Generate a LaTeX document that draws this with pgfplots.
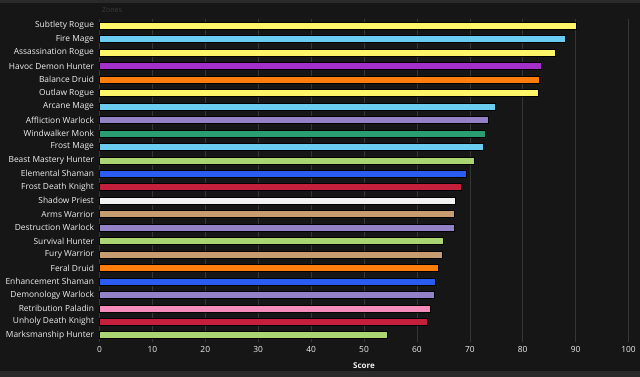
\documentclass[border=0pt]{standalone}
\usepackage{pgfplots}
\pgfplotsset{compat=1.18}
\usepackage{fontspec}
\setmainfont{Open Sans}
\definecolor{bg}{HTML}{161616}
\definecolor{strip}{HTML}{2A2A2A}
\definecolor{gridc}{HTML}{363636}
\definecolor{labc}{HTML}{F0F0F0}
\definecolor{rogue}{HTML}{FFF569}
\definecolor{mage}{HTML}{69CCF0}
\definecolor{dh}{HTML}{A330C9}
\definecolor{druid}{HTML}{FF7D0A}
\definecolor{warlock}{HTML}{9482C9}
\definecolor{monk}{HTML}{2A9D72}
\definecolor{hunter}{HTML}{ABD473}
\definecolor{shaman}{HTML}{2A5CF2}
\definecolor{dk}{HTML}{C41F3B}
\definecolor{priest}{HTML}{F2F2F2}
\definecolor{warrior}{HTML}{C79C6E}
\definecolor{paladin}{HTML}{F58CBA}
\begin{document}
\begin{tikzpicture}
\fill[bg] (0,0) rectangle (640pt,377pt);
\fill[strip] (0,0) rectangle (640pt,6pt);
\fill[strip] (0,374pt) rectangle (640pt,377pt);
\node[color=strip!80!white!60!bg, font=\fontsize{7}{8}\selectfont] at (112pt,367pt) {Zones};
\begin{axis}[
  at={(99.5pt,35pt)}, anchor=south west,
  scale only axis, width=529pt, height=323pt,
  xmin=0, xmax=100, ymin=-0.5, ymax=23.5, y dir=reverse,
  xtick={0,10,...,100},
  ytick={0,...,23},
  yticklabels={Subtlety Rogue,Fire Mage,Assassination Rogue,Havoc Demon Hunter,Balance Druid,Outlaw Rogue,Arcane Mage,Affliction Warlock,Windwalker Monk,Frost Mage,Beast Mastery Hunter,Elemental Shaman,Frost Death Knight,Shadow Priest,Arms Warrior,Destruction Warlock,Survival Hunter,Fury Warrior,Feral Druid,Enhancement Shaman,Demonology Warlock,Retribution Paladin,Unholy Death Knight,Marksmanship Hunter},
  axis line style={draw=none},
  major tick length=0pt,
  xmajorgrids, grid style={color=gridc, line width=0.6pt},
  tick label style={color=labc, font=\fontsize{8.4}{10}\selectfont},
  /pgf/number format/assume math mode=true,
  yticklabel style={xshift=-2pt},
  xticklabel style={yshift=-1pt},
  xlabel={Score},
  xlabel style={color=labc, font=\bfseries\fontsize{8}{9}\selectfont, yshift=-3pt},
  xbar, bar width=7pt,
  every axis plot/.append style={bar shift=0pt, draw=black, line width=0.6pt},
  clip=false,
]
\addplot[fill=rogue] coordinates {(90.1,0)};
\addplot[fill=mage] coordinates {(88.1,1)};
\addplot[fill=rogue] coordinates {(86.2,2)};
\addplot[fill=dh] coordinates {(83.5,3)};
\addplot[fill=druid] coordinates {(83.2,4)};
\addplot[fill=rogue] coordinates {(83.0,5)};
\addplot[fill=mage] coordinates {(74.8,6)};
\addplot[fill=warlock] coordinates {(73.5,7)};
\addplot[fill=monk] coordinates {(72.9,8)};
\addplot[fill=mage] coordinates {(72.6,9)};
\addplot[fill=hunter] coordinates {(70.8,10)};
\addplot[fill=shaman] coordinates {(69.3,11)};
\addplot[fill=dk] coordinates {(68.3,12)};
\addplot[fill=priest] coordinates {(67.3,13)};
\addplot[fill=warrior] coordinates {(67.1,14)};
\addplot[fill=warlock] coordinates {(67.0,15)};
\addplot[fill=hunter] coordinates {(64.9,16)};
\addplot[fill=warrior] coordinates {(64.8,17)};
\addplot[fill=druid] coordinates {(64.0,18)};
\addplot[fill=shaman] coordinates {(63.4,19)};
\addplot[fill=warlock] coordinates {(63.2,20)};
\addplot[fill=paladin] coordinates {(62.5,21)};
\addplot[fill=dk] coordinates {(61.9,22)};
\addplot[fill=hunter] coordinates {(54.4,23)};
\end{axis}
\end{tikzpicture}
\end{document}
